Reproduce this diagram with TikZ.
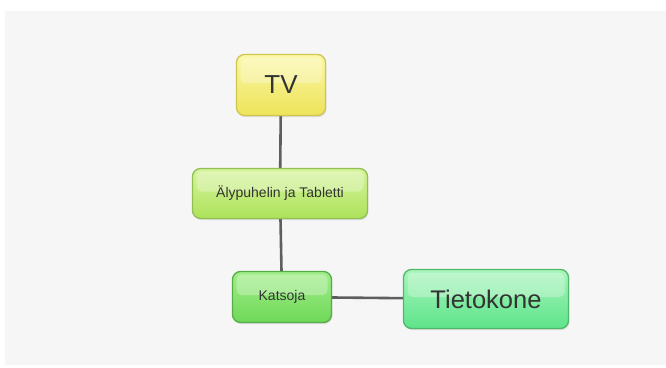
\documentclass[tikz,border=0pt]{standalone}
\usepackage{fontspec}
\setmainfont{Liberation Sans}
\usetikzlibrary{shadows}
\definecolor{paper}{HTML}{F6F6F6}
\definecolor{ink}{HTML}{333333}
\definecolor{wire}{HTML}{5E5E5E}
\definecolor{tvtop}{HTML}{FBF8A8}
\definecolor{tvbot}{HTML}{EDE35A}
\definecolor{tvrim}{HTML}{CFC650}
\definecolor{alytop}{HTML}{D6F49E}
\definecolor{alybot}{HTML}{ADE25A}
\definecolor{alyrim}{HTML}{90C052}
\definecolor{kattop}{HTML}{A2EE8A}
\definecolor{katbot}{HTML}{6ED858}
\definecolor{katrim}{HTML}{58AC48}
\definecolor{tietop}{HTML}{A8F5BC}
\definecolor{tiebot}{HTML}{5EE48A}
\definecolor{tierim}{HTML}{50B868}
\tikzset{
  x=1pt, y=-1pt,
  gloss/.style={path picture={
    \fill[white, opacity=0.28, rounded corners=5pt]
      ([xshift=4pt,yshift=-3pt]path picture bounding box.north west) rectangle
      ([xshift=-4pt,yshift=2pt]path picture bounding box.east);}},
  bubble/.style={rounded corners=8pt, line width=1.3pt, text=ink, inner sep=0pt, gloss,
    drop shadow={shadow xshift=0.8pt, shadow yshift=-1.5pt, opacity=0.22}},
  yellowbox/.style={bubble, draw=tvrim, top color=tvtop, bottom color=tvbot},
  limebox/.style={bubble, draw=alyrim, top color=alytop, bottom color=alybot},
  greenbox/.style={bubble, draw=katrim, top color=kattop, bottom color=katbot},
  mintbox/.style={bubble, draw=tierim, top color=tietop, bottom color=tiebot},
  link/.style={draw=wire, line width=2.6pt}
}
\begin{document}
\begin{tikzpicture}
\useasboundingbox (0,0) rectangle (666,367);
\fill[white] (0,0) rectangle (666,367);
\fill[paper] (5,11) rectangle (666,365);
% connectors first, so the boxes sit on top of them
\coordinate (tvc) at (281,85);
\coordinate (alyc) at (280,193.5);
\coordinate (katc) at (282,297);
\coordinate (tiec) at (486,299);
\draw[link] (tvc) -- (alyc);
\draw[link] (alyc) -- (katc);
\draw[link] ([yshift=0pt]katc) -- (tiec);
\node[yellowbox, minimum width=89pt, minimum height=61pt, font=\fontsize{26}{26}\selectfont] (tv) at (tvc) {TV};
\node[limebox, minimum width=175pt, minimum height=50pt, font=\fontsize{14}{14}\selectfont] (aly) at (alyc) {Älypuhelin ja Tabletti};
\node[greenbox, minimum width=99pt, minimum height=51pt, font=\fontsize{14}{14}\selectfont] (kat) at (katc) {Katsoja};
\node[mintbox, minimum width=165pt, minimum height=59pt, font=\fontsize{25.5}{25.5}\selectfont] (tie) at (tiec) {Tietokone};
\end{tikzpicture}
\end{document}
